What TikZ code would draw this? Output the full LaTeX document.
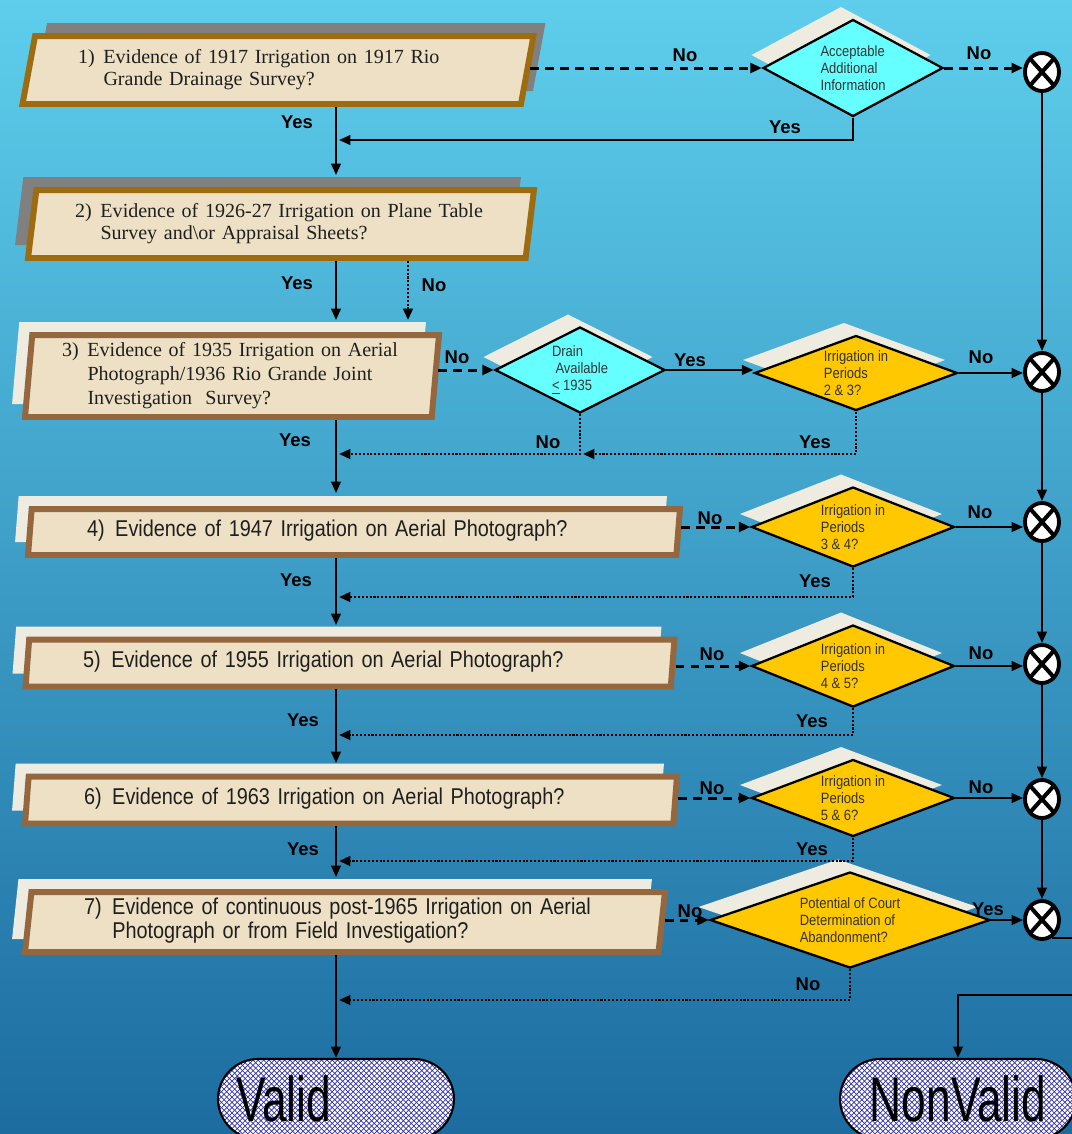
\documentclass[tikz,border=0pt]{standalone}
\usepackage{fontspec}
\setmainfont{Liberation Serif}
\newfontfamily\narrowsans[FakeStretch=0.87]{Liberation Sans}
\newfontfamily\tallsans[FakeStretch=0.7]{Liberation Sans}
\newfontfamily\labelsans{Liberation Sans}
\usetikzlibrary{arrows.meta}
\usetikzlibrary{shapes.geometric}
\usetikzlibrary{shadows}
\usetikzlibrary{patterns}

\definecolor{bgtop}{RGB}{94,206,236}
\definecolor{bgmid}{RGB}{58,160,208}
\definecolor{bgbot}{RGB}{28,108,160}
\definecolor{parchment}{RGB}{237,224,196}
\definecolor{goldrim}{RGB}{158,108,16}
\definecolor{brownrim}{RGB}{148,103,62}
\definecolor{slate}{RGB}{128,128,128}
\definecolor{cream}{RGB}{238,235,224}
\definecolor{aqua}{RGB}{102,255,255}
\definecolor{amber}{RGB}{255,200,0}
\definecolor{hatch}{RGB}{50,50,170}

\begin{document}
\begin{tikzpicture}[x=0.02cm, y=-0.02cm,
    >={Triangle[length=6.5pt,width=5.5pt]},
    query/.style={trapezium, trapezium stretches body, fill=parchment,
      line width=3.4pt, inner sep=2pt, text=black!88, align=left},
    oldq/.style={query, draw=goldrim, font=\fontsize{11.4}{12.6}\selectfont,
      general shadow={fill=slate, shadow xshift=#1, shadow yshift=0.26cm}},
    newq/.style={query, draw=brownrim,
      general shadow={fill=cream, shadow xshift=-0.26cm, shadow yshift=0.26cm}},
    wide/.style={font=\narrowsans\fontsize{13}{13.7}\selectfont,
      trapezium left angle=83.4, trapezium right angle=96.6},
    check/.style={diamond, draw=black, line width=1.3pt, inner sep=0pt, align=left,
      font=\narrowsans\fontsize{8.5}{9.7}\selectfont, text=black!80,
      general shadow={fill=cream, shadow xshift=-0.24cm, shadow yshift=0.26cm}},
    merge/.style={ellipse, draw=black, line width=2.2pt, fill=white, inner sep=0pt,
      minimum width=0.68cm, minimum height=0.76cm,
      path picture={\draw[line width=2.3pt]
        (path picture bounding box.north west) -- (path picture bounding box.south east)
        (path picture bounding box.south west) -- (path picture bounding box.north east);}},
    outcome/.style={rectangle, rounded corners=0.8cm, draw=black, line width=1.2pt,
      preaction={fill=white}, pattern=crosshatch, pattern color=hatch,
      minimum width=4.72cm, minimum height=1.6cm,
      font=\tallsans\fontsize{36}{36}\selectfont},
    lbl/.style={font=\labelsans\bfseries\fontsize{10.5}{12}\selectfont, inner sep=0pt},
    flow/.style={->, line width=1.2pt},
    nobranch/.style={->, line width=1.7pt, dash pattern=on 5pt off 3.5pt},
    loopback/.style={->, line width=1.5pt, dash pattern=on 1.2pt off 1pt}]

  \useasboundingbox (0,0) rectangle (1072,1134);
  \shade[top color=bgtop, middle color=bgmid, bottom color=bgbot] (0,0) rectangle (1072,1134);

  % question boxes
  \node[oldq=0.24cm, trapezium left angle=76.3, trapezium right angle=103.7,
        minimum width=10.22cm, minimum height=1.36cm, text width=8cm] (q1) at (278,70)
    {\begin{tabular}{@{}l@{\hspace{5pt}}l@{}}1) & Evidence of 1917 Irrigation on 1917 Rio\\
      & Grande Drainage Survey?\end{tabular}};
  \node[oldq=-0.26cm, trapezium left angle=80.8, trapezium right angle=99.2,
        minimum width=10.12cm, minimum height=1.36cm, text width=8.24cm] (q2) at (281,224)
    {\begin{tabular}{@{}l@{\hspace{5pt}}l@{}}2) & Evidence of 1926-27 Irrigation on Plane Table\\
      & Survey and\textbackslash or Appraisal Sheets?\end{tabular}};
  \node[newq, font=\fontsize{11.4}{13.7}\selectfont, trapezium left angle=84.8, trapezium right angle=95.2,
        minimum width=8.28cm, minimum height=1.64cm, text width=6.8cm] (q3) at (232,376)
    {\begin{tabular}{@{}l@{\hspace{5pt}}l@{}}3) & Evidence of 1935 Irrigation on Aerial\\
      & Photograph/1936 Rio Grande Joint\\ & Investigation\ \ Survey?\end{tabular}};
  \node[newq, wide, minimum width=13.04cm, minimum height=0.92cm, text width=10.68cm] (q4) at (354,532)
    {\begin{tabular}{@{}l@{\hspace{6pt}}l@{}}4) & Evidence of 1947 Irrigation on Aerial Photograph?\end{tabular}};
  \node[newq, wide, minimum width=12.98cm, minimum height=0.94cm, text width=10.68cm] (q5) at (350,663)
    {\begin{tabular}{@{}l@{\hspace{6pt}}l@{}}5) & Evidence of 1955 Irrigation on Aerial Photograph?\end{tabular}};
  \node[newq, wide, minimum width=13.04cm, minimum height=0.94cm, text width=10.68cm] (q6) at (351,800)
    {\begin{tabular}{@{}l@{\hspace{6pt}}l@{}}6) & Evidence of 1963 Irrigation on Aerial Photograph?\end{tabular}};
  \node[newq, wide, minimum width=12.8cm, minimum height=1.2cm, text width=10.44cm] (q7) at (345,922)
    {\begin{tabular}{@{}l@{\hspace{6pt}}l@{}}7) & Evidence of continuous post-1965 Irrigation on Aerial\\
      & Photograph or from Field Investigation?\end{tabular}};

  % decisions
  \node[check, fill=aqua, minimum width=3.6cm, minimum height=1.94cm, aspect=1.86] (acc) at (853,68)
    {Acceptable\\Additional\\Information};
  \node[check, fill=aqua, minimum width=3.4cm, minimum height=1.72cm, aspect=2] (drain) at (580,370)
    {Drain\\\hspace{2pt}Available\\\underline{<} 1935};
  \node[check, fill=amber, minimum width=4.06cm, minimum height=1.5cm, aspect=2.7] (d23) at (856,373)
    {Irrigation in\\Periods\\2 \& 3?};
  \node[check, fill=amber, minimum width=4.06cm, minimum height=1.6cm, aspect=2.5] (d34) at (853,527)
    {Irrigation in\\Periods\\3 \& 4?};
  \node[check, fill=amber, minimum width=4.06cm, minimum height=1.64cm, aspect=2.5] (d45) at (853,666)
    {Irrigation in\\Periods\\4 \& 5?};
  \node[check, fill=amber, minimum width=4.06cm, minimum height=1.54cm, aspect=2.6] (d56) at (853,798)
    {Irrigation in\\Periods\\5 \& 6?};
  \node[check, fill=amber, minimum width=5.6cm, minimum height=1.92cm, aspect=2.9] (court) at (850,920)
    {Potential of Court\\Determination of\\Abandonment?};

  \foreach \i/\y in {1/72, 2/372, 3/522, 4/664, 5/799, 6/920}
    \node[merge] (x\i) at (1042,\y) {};

  \node[outcome, text width=4cm, align=left] (valid) at (336,1099) {Valid};
  \node[outcome, align=center] (nonvalid) at (958,1099) {NonValid};

  \coordinate (in2) at (336,175);
  \coordinate (in3) at (336,320);
  \coordinate (in3b) at (408,320);
  \coordinate (in4) at (336,493);
  \coordinate (in5) at (336,625);
  \coordinate (in6) at (336,763);
  \coordinate (in7) at (336,877);
  \coordinate (ret1) at (339,140);
  \coordinate (ret3) at (339,454);
  \coordinate (ret3b) at (583,454);
  \coordinate (ret4) at (339,597);
  \coordinate (ret5) at (339,735);
  \coordinate (ret6) at (339,861);
  \coordinate (ret7) at (339,1000);
  \coordinate (rim) at (1090,995);

  \foreach \a/\b in {q1/in2, q2/in3, q3/in4, q4/in5, q5/in6, q6/in7, q7/valid.north}
    \draw[flow] (\a.south -| \b) -- (\b);
  \foreach \a/\b in {x1/x2, x2/x3, x3/x4, x4/x5, x5/x6}
    \draw[flow] (\a) -- (\b);
  \foreach \a/\b in {drain/d23, d23/x2, d34/x3, d45/x4, d56/x5, court/x6}
    \draw[flow] (\a.east) -- (\a.east -| \b.west);
  \draw[flow] (acc.south) |- (ret1);
  \draw[flow] (x6.-60) -| (rim) -| (nonvalid.north);

  \foreach \a/\b in {q1/acc, q3/drain, q4/d34, q5/d45, q6/d56, q7/court}
    \draw[nobranch] (\b.west -| \a.east) -- (\b.west);
  \draw[nobranch] (acc.east) -- (acc.east -| x1.west);

  \draw[loopback] (q2.south -| in3b) -- (in3b);
  \draw[loopback] (d23.south) |- (ret3b);
  \foreach \a/\b in {drain/ret3, d34/ret4, d45/ret5, d56/ret6, court/ret7}
    \draw[loopback] (\a.south) |- (\b);

  \foreach \x/\y/\t [count=\i] in {685/55/No, 979/53/No, 297/122/Yes, 785/127/Yes,
      297/283/Yes, 434/285/No, 457/357/No, 690/360/Yes, 981/357/No, 548/442/No,
      815/442/Yes, 295/440/Yes, 710/518/No, 980/512/No, 296/580/Yes, 815/581/Yes,
      712/654/No, 981/653/No, 303/720/Yes, 812/721/Yes, 712/788/No, 981/787/No,
      303/849/Yes, 812/849/Yes, 690/911/No, 988/909/Yes, 808/984/No}
    \node[lbl] (tag\i) at (\x,\y) {\t};
\end{tikzpicture}
\end{document}
